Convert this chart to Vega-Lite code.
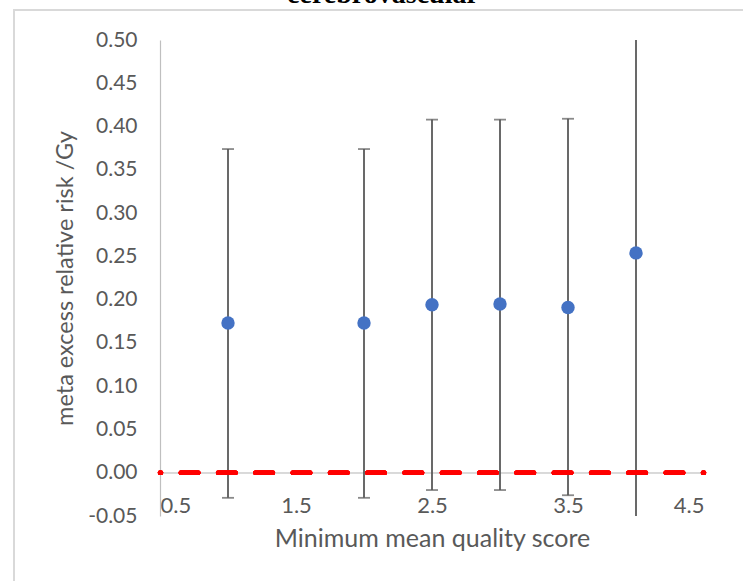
{
  "$schema": "https://vega.github.io/schema/vega-lite/v6.json",
  "autosize": {"type": "none"},
  "padding": {"left": 160, "top": 40, "right": 39, "bottom": 65},
  "width": 544,
  "height": 476,
  "background": "white",
  "title": {
    "text": "cerebrovascular",
    "font": "Liberation Serif",
    "fontSize": 28,
    "fontWeight": "bold",
    "color": "#000000",
    "anchor": "middle",
    "dx": -49,
    "baseline": "alphabetic",
    "offset": -22
  },
  "data": {
    "values": [
      {"score": 1.0, "err": 0.173, "lo": -0.029, "hi": 0.374},
      {"score": 2.0, "err": 0.173, "lo": -0.029, "hi": 0.374},
      {"score": 2.5, "err": 0.194, "lo": -0.020, "hi": 0.408},
      {"score": 3.0, "err": 0.195, "lo": -0.020, "hi": 0.408},
      {"score": 3.5, "err": 0.191, "lo": -0.026, "hi": 0.409},
      {"score": 4.0, "err": 0.254, "lo": -0.080, "hi": 0.590}
    ]
  },
  "config": {
    "view": {"stroke": null},
    "axis": {"labelFont": "Lato", "titleFont": "Lato", "labelColor": "#595959", "titleColor": "#595959", "titleFontWeight": "normal", "grid": false, "ticks": false}
  },
  "layer": [
    {
      "mark": {"type": "rect", "fill": null, "stroke": "#d9d9d9", "strokeWidth": 1.5, "clip": false},
      "encoding": {
        "x": {"datum": -0.5735, "type": "quantitative", "scale": {"domain": [0.5, 4.5], "nice": false, "zero": false},
          "axis": {"values": [0.5, 1.5, 2.5, 3.5, 4.5], "format": ".1f", "domain": false, "labelFontSize": 22, "labelPadding": -21, "title": "Minimum mean quality score", "titleFontSize": 25, "titlePadding": 10}},
        "x2": {"datum": 5.6},
        "y": {"datum": 0.5347, "type": "quantitative", "scale": {"domain": [-0.05, 0.5], "nice": false, "zero": false},
          "axis": {"values": [-0.05, 0, 0.05, 0.1, 0.15, 0.2, 0.25, 0.3, 0.35, 0.4, 0.45, 0.5], "format": ".2f", "labelExpr": "replace(datum.label, '\u2212', '-')", "domain": true, "domainColor": "#bfbfbf", "domainWidth": 1.2, "labelFontSize": 21, "labelPadding": 23, "title": "meta excess relative risk /Gy", "titleFontSize": 23.5, "titlePadding": 10}},
        "y2": {"datum": -0.3}
      }
    },
    {
      "mark": {"type": "rule", "color": "#d9d9d9", "strokeWidth": 1.5},
      "encoding": {
        "x": {"datum": 0.5, "type": "quantitative"},
        "x2": {"datum": 4.5},
        "y": {"datum": 0, "type": "quantitative"}
      }
    },
    {
      "mark": {"type": "rule", "color": "#595959", "strokeWidth": 1.8, "clip": true},
      "encoding": {
        "x": {"field": "score", "type": "quantitative"},
        "y": {"field": "lo", "type": "quantitative"},
        "y2": {"field": "hi"}
      }
    },
    {
      "mark": {"type": "tick", "orient": "horizontal", "color": "#595959", "size": 12, "thickness": 1.8, "clip": true},
      "encoding": {
        "x": {"field": "score", "type": "quantitative"},
        "y": {"field": "lo", "type": "quantitative"}
      }
    },
    {
      "mark": {"type": "tick", "orient": "horizontal", "color": "#595959", "size": 12, "thickness": 1.8, "clip": true},
      "encoding": {
        "x": {"field": "score", "type": "quantitative"},
        "y": {"field": "hi", "type": "quantitative"}
      }
    },
    {
      "mark": {"type": "rule", "color": "#ff0000", "strokeWidth": 4.5, "strokeDash": [17.5, 19.8], "strokeDashOffset": 16.5, "strokeCap": "round"},
      "encoding": {
        "x": {"datum": 0.5, "type": "quantitative"},
        "x2": {"datum": 4.5},
        "y": {"datum": 0, "type": "quantitative"}
      }
    },
    {
      "mark": {"type": "point", "filled": true, "color": "#4472c4", "opacity": 1, "size": 180},
      "encoding": {
        "x": {"field": "score", "type": "quantitative"},
        "y": {"field": "err", "type": "quantitative"}
      }
    }
  ]
}
